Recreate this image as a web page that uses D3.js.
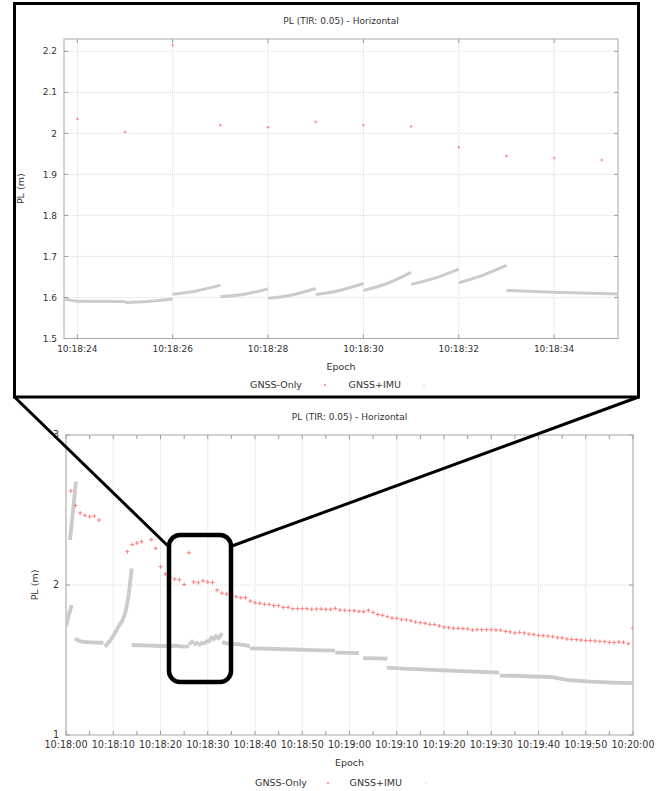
<!DOCTYPE html>
<html>
<head>
<meta charset="utf-8">
<script src="https://cdn.jsdelivr.net/npm/d3@7"></script>
<style>
  body { margin: 0; background: #fff; }
  text { font-family: "DejaVu Sans", sans-serif; fill: #333; }
</style>
</head>
<body>
<svg id="chart" width="667" height="791"></svg>
<script>
// ---- data (seconds after 10:18:00, PL in metres) ----
const startEpoch = '10:18:00';
const chartTitle = 'PL (TIR: 0.05) - Horizontal';
const seriesNames = ['GNSS-Only', 'GNSS+IMU'];

const gnssOnlySec = [1, 2, 3, 4, 5, 6, 7,
  13, 14, 15, 16, 18, 19, 20, 21, 22, 23, 24, 25, 26, 27, 28, 29, 30,
  31, 32, 33, 34, 35, 36, 37, 38, 39, 40, 41, 42, 43, 44, 45, 46, 47, 48, 49, 50,
  51, 52, 53, 54, 55, 56, 57, 58, 59, 60, 61, 62, 63, 64, 65, 66, 67, 68, 69, 70,
  71, 72, 73, 74, 75, 76, 77, 78, 79, 80, 81, 82, 83, 84, 85, 86, 87, 88, 89, 90,
  91, 92, 93, 94, 95, 96, 97, 98, 99, 100, 101, 102, 103, 104, 105, 106, 107, 108, 109, 110,
  111, 112, 113, 114, 115, 116, 117, 118, 119, 120];
const gnssOnlyPL = [2.627, 2.53, 2.48, 2.464, 2.455, 2.46, 2.433,
  2.222, 2.27, 2.28, 2.289, 2.302, 2.244, 2.122, 2.073, 2.051, 2.04, 2.035, 2.003, 2.215, 2.02, 2.015, 2.028, 2.02,
  2.017, 1.966, 1.945, 1.94, 1.935, 1.922, 1.915, 1.915, 1.893, 1.882, 1.878, 1.871, 1.871, 1.862, 1.862, 1.851, 1.851, 1.842, 1.842, 1.842,
  1.842, 1.838, 1.84, 1.84, 1.838, 1.838, 1.844, 1.833, 1.831, 1.829, 1.829, 1.824, 1.822, 1.831, 1.816, 1.804, 1.798, 1.789, 1.78, 1.778,
  1.769, 1.767, 1.762, 1.753, 1.749, 1.744, 1.738, 1.736, 1.727, 1.72, 1.716, 1.711, 1.711, 1.709, 1.707, 1.70, 1.702, 1.702, 1.702, 1.702,
  1.70, 1.698, 1.691, 1.687, 1.68, 1.684, 1.68, 1.673, 1.669, 1.664, 1.662, 1.66, 1.656, 1.649, 1.647, 1.64, 1.638, 1.636, 1.633, 1.629,
  1.629, 1.627, 1.624, 1.622, 1.618, 1.616, 1.62, 1.618, 1.609, 1.711];

const imuSegments = [
  [[0, 1.722], [0.6, 1.80], [1.2, 1.867]],
  [[0.85, 2.30], [1.5, 2.50], [2.1, 2.689]],
  [[1.9, 1.644], [3.3, 1.622], [5.5, 1.617], [7.9, 1.615]],
  [[8.25, 1.589], [9.67, 1.644], [11.1, 1.722], [12.5, 1.811], [13.2, 1.922], [13.9, 2.111]],
  [[13.9, 1.600], [18, 1.596], [22, 1.593], [23.75, 1.595], [24, 1.591], [25, 1.590]],
  [[25, 1.588], [25.5, 1.590], [26, 1.596]],
  [[26, 1.608], [26.5, 1.616], [27, 1.630]],
  [[27, 1.602], [27.5, 1.608], [28, 1.621]],
  [[28, 1.598], [28.5, 1.606], [29, 1.622]],
  [[29, 1.607], [29.5, 1.617], [30, 1.634]],
  [[30, 1.617], [30.5, 1.634], [31, 1.661]],
  [[31, 1.632], [31.5, 1.647], [32, 1.669]],
  [[32, 1.636], [32.5, 1.654], [33, 1.678]],
  [[33, 1.617], [34, 1.613], [35.4, 1.608], [37, 1.603], [38.9, 1.593]],
  [[38.9, 1.578], [48, 1.570], [56.9, 1.562]],
  [[57, 1.549], [62, 1.546]],
  [[62.9, 1.513], [68, 1.509]],
  [[67.9, 1.449], [70.6, 1.444], [81.2, 1.429], [91.7, 1.416]],
  [[91.8, 1.396], [103, 1.385], [106, 1.368], [120, 1.346]]
];

const t0 = d3.timeParse('%H:%M:%S')(startEpoch);
const at = s => new Date(+t0 + s * 1000);
const fmt = d3.timeFormat('%H:%M:%S');

const svg = d3.select('#chart');
let clipId = 0;

function drawPanel (opt) {
  const g = svg.append('g');
  const x = d3.scaleTime().domain(opt.xDomain.map(at)).range(opt.xRange);
  const y = d3.scaleLinear().domain(opt.yDomain).range(opt.yRange);
  const [x0, x1] = opt.xRange, [y1, y0] = opt.yRange;

  const xt = d3.timeSecond.every(opt.xStep).range(at(opt.xDomain[0]), new Date(+at(opt.xDomain[1]) + 1));
  const xm = d3.timeSecond.every(opt.xMinor).range(at(opt.xDomain[0]), new Date(+at(opt.xDomain[1]) + 1));
  const yt = opt.yTicks;

  // grid
  g.append('g').selectAll('line').data(xt).join('line')
    .attr('x1', d => x(d)).attr('x2', d => x(d)).attr('y1', y0).attr('y2', y1)
    .attr('stroke', '#dcdcdc').attr('stroke-dasharray', '1,1');
  g.append('g').selectAll('line').data(yt.filter(v => v > opt.yDomain[0] && v < opt.yDomain[1])).join('line')
    .attr('x1', x0).attr('x2', x1).attr('y1', d => y(d)).attr('y2', d => y(d))
    .attr('stroke', '#dcdcdc').attr('stroke-dasharray', '1,1');

  // ticks (inward, all four sides)
  const tk = g.append('g').attr('stroke', '#9a9a9a');
  xm.forEach(d => {
    tk.append('line').attr('x1', x(d)).attr('x2', x(d)).attr('y1', y1).attr('y2', y1 - 4);
    tk.append('line').attr('x1', x(d)).attr('x2', x(d)).attr('y1', y0).attr('y2', y0 + 4);
  });
  yt.forEach(v => {
    tk.append('line').attr('x1', x0).attr('x2', x0 + 4).attr('y1', y(v)).attr('y2', y(v));
    tk.append('line').attr('x1', x1).attr('x2', x1 - 4).attr('y1', y(v)).attr('y2', y(v));
  });

  // frame
  g.append('rect').attr('x', x0).attr('y', y0).attr('width', x1 - x0).attr('height', y1 - y0)
    .attr('fill', 'none').attr('stroke', '#a8a8a8');

  // tick labels (clipped where the source image was cut)
  const lid = 'clip' + (clipId++);
  g.append('clipPath').attr('id', lid).append('rect')
    .attr('x', 0).attr('y', 0).attr('width', opt.labelCut).attr('height', 791);
  g.append('g').attr('clip-path', `url(#${lid})`).selectAll('text').data(xt).join('text')
    .attr('x', d => x(d)).attr('y', y1 + 13)
    .attr('text-anchor', 'middle').style('font-size', opt.tickFont)
    .text(fmt);
  g.append('g').selectAll('text').data(yt).join('text')
    .attr('x', x0 - 7).attr('y', d => y(d)).attr('dy', '0.35em')
    .attr('text-anchor', 'end').style('font-size', opt.tickFont)
    .text(d => d3.format('~g')(d));

  // data
  const id = 'clip' + (clipId++);
  g.append('clipPath').attr('id', id).append('rect')
    .attr('x', x0).attr('y', y0).attr('width', x1 - x0).attr('height', y1 - y0);
  const plot = g.append('g').attr('clip-path', `url(#${id})`);

  const line = d3.line().x(d => x(at(d[0]))).y(d => y(d[1])).curve(d3.curveMonotoneX);
  plot.append('g').selectAll('path').data(imuSegments).join('path')
    .attr('d', line).attr('fill', 'none')
    .attr('stroke', '#cbcbcb').attr('stroke-width', opt.imuWidth).attr('stroke-linecap', 'butt');

  const s = opt.markSize;
  plot.append('g').selectAll('path').data(gnssOnlySec).join('path')
    .attr('transform', (d, i) => `translate(${x(at(d))},${y(gnssOnlyPL[i])})`)
    .attr('d', `M${-s},0H${s}M0,${-s}V${s}`)
    .attr('stroke', '#ff7b7b').attr('stroke-width', 1);

  // titles
  const cx = (x0 + x1) / 2;
  g.append('text').attr('x', cx).attr('y', opt.titleY).attr('text-anchor', 'middle')
    .style('font-size', '9px').text(chartTitle);
  g.append('text').attr('x', cx).attr('y', opt.epochY).attr('text-anchor', 'middle')
    .style('font-size', '9.5px').text('Epoch');
  g.append('text').attr('transform', `translate(${opt.plX},${(y0 + y1) / 2}) rotate(-90)`)
    .attr('text-anchor', 'middle').style('font-size', '9.5px').text('PL (m)');

  // legend
  const lg = g.append('g').style('font-size', '9.5px');
  lg.append('text').attr('x', opt.legend[0]).attr('y', opt.legendY).attr('dy', '0.35em')
    .attr('text-anchor', 'end').text(seriesNames[0]);
  lg.append('path').attr('transform', `translate(${opt.legend[1]},${opt.legendY})`)
    .attr('d', 'M-1,0H1M0,-1V1').attr('stroke', '#ff7b7b');
  lg.append('text').attr('x', opt.legend[2]).attr('y', opt.legendY).attr('dy', '0.35em')
    .attr('text-anchor', 'end').text(seriesNames[1]);
  lg.append('rect').attr('x', opt.legend[3] - 1).attr('y', opt.legendY - 1)
    .attr('width', 2).attr('height', 2).attr('fill', '#ececec');
  return {x, y, g};
}

// zoomed panel (top)
drawPanel({
  xDomain: [23.72, 35.34], xRange: [64, 618],
  yDomain: [1.5, 2.23], yRange: [338.5, 39],
  xStep: 2, xMinor: 2, yTicks: d3.range(1.5, 2.25, 0.1).map(v => +v.toFixed(1)),
  tickFont: '9px', imuWidth: 3, markSize: 1.3, labelCut: 667,
  titleY: 24, epochY: 370, plX: 24, legendY: 385, legend: [302, 325, 401, 424]
});

// full panel (bottom)
drawPanel({
  xDomain: [0, 120], xRange: [66, 633],
  yDomain: [1, 3], yRange: [735, 435],
  xStep: 10, xMinor: 5, yTicks: [1, 2, 3],
  tickFont: '9.6px', imuWidth: 3.8, markSize: 2, labelCut: 654,
  titleY: 420, epochY: 766, plX: 38, legendY: 783, legend: [307, 328, 402, 426]
});

// zoom annotation: inset frame, connectors, highlight box
const ann = svg.append('g').attr('fill', 'none').attr('stroke', '#000');
ann.append('rect').attr('x', 14.5).attr('y', 3.5).attr('width', 624).attr('height', 393.5)
  .attr('stroke-width', 3);
ann.append('line').attr('x1', 14.5).attr('y1', 397).attr('x2', 168).attr('y2', 546).attr('stroke-width', 3);
ann.append('line').attr('x1', 638.5).attr('y1', 397).attr('x2', 232).attr('y2', 546).attr('stroke-width', 3);
ann.append('rect').attr('x', 169).attr('y', 535).attr('width', 62).attr('height', 147)
  .attr('rx', 11).attr('stroke-width', 4.5);
</script>
</body>
</html>
